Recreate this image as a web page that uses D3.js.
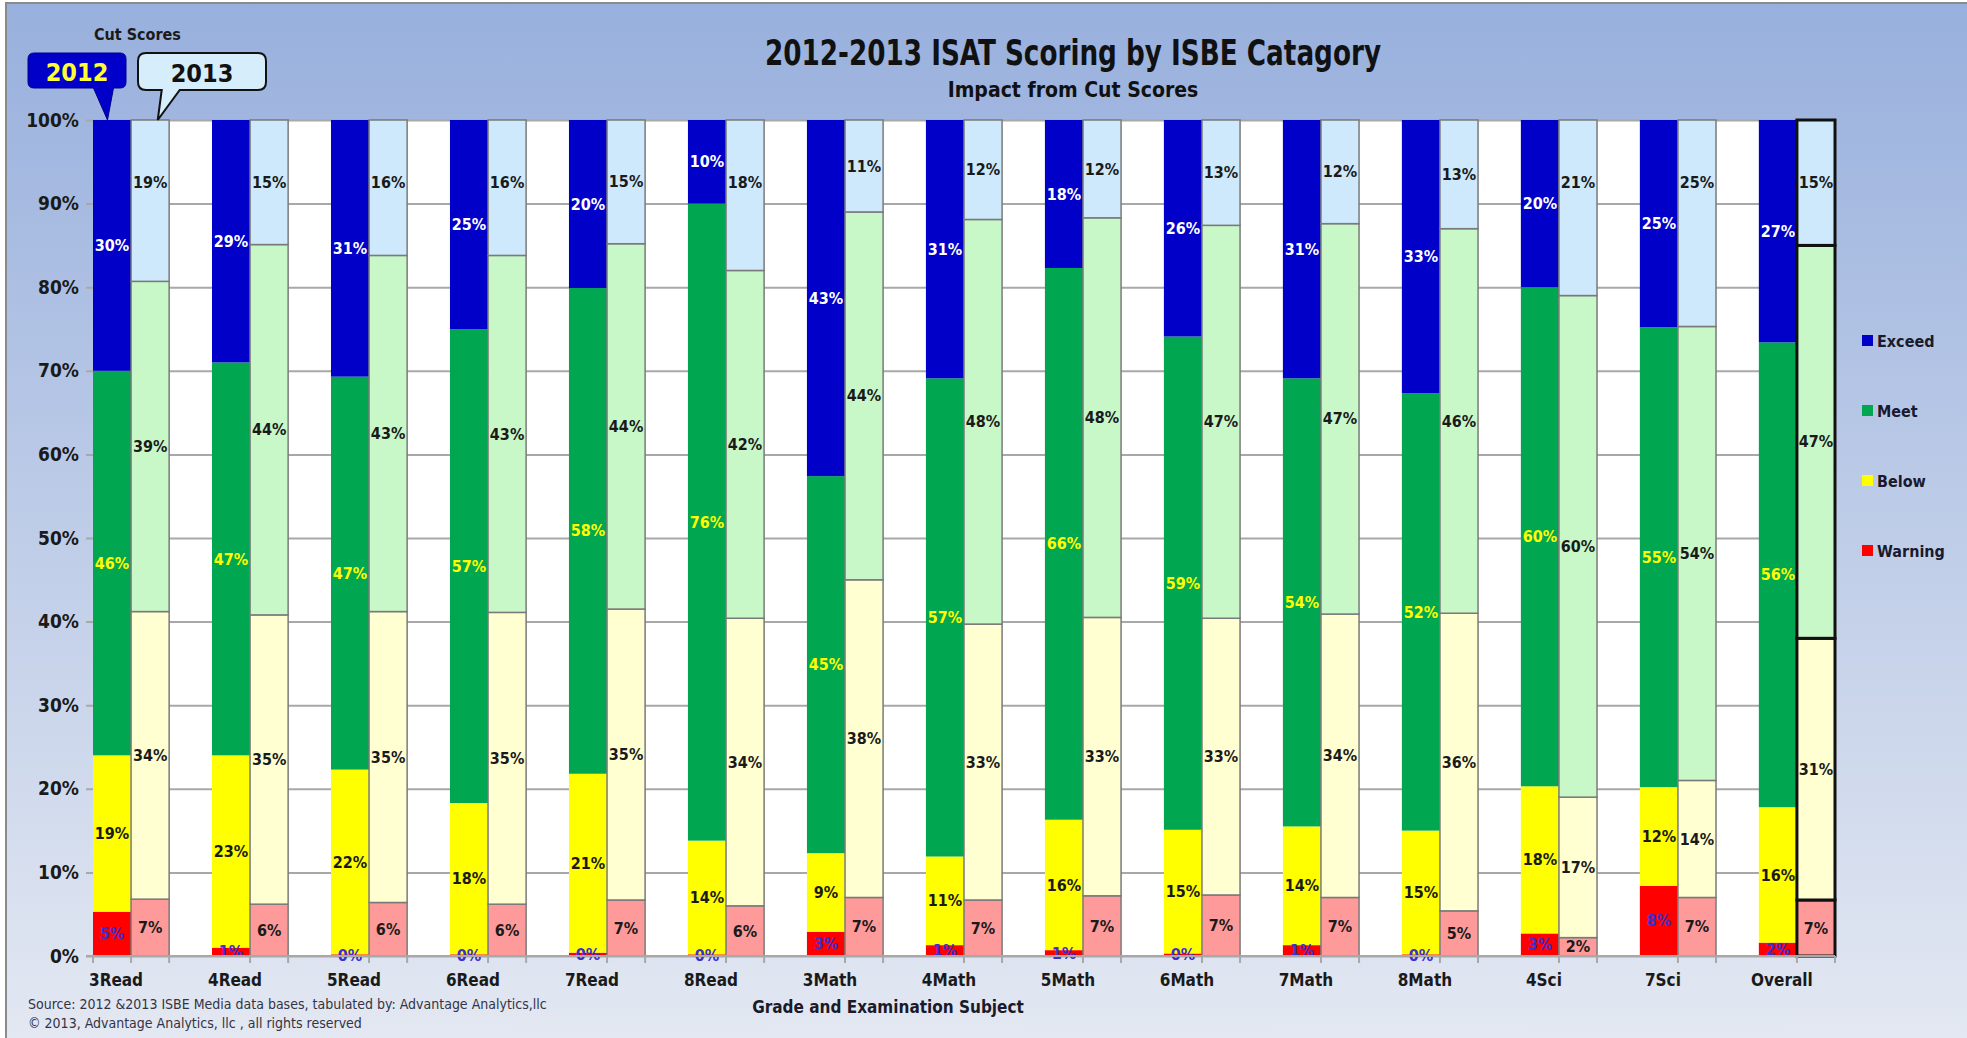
<!DOCTYPE html>
<html>
<head>
<meta charset="utf-8">
<script src="https://cdn.jsdelivr.net/npm/d3@7"></script>
<style>
	body { margin: 0; }
	text { font-family: 'Liberation Sans Narrow', 'DejaVu Sans Condensed', sans-serif; }
</style>
</head>
<body>
<div id="chart"></div>
<script>
// categories and values (percent)
const categories = ["3Read", "4Read", "5Read", "6Read", "7Read", "8Read", "3Math", "4Math", "5Math", "6Math", "7Math", "8Math", "4Sci", "7Sci", "Overall"];
const levels = ["Warning", "Below", "Meet", "Exceed"];
const years = ["2012", "2013"];

const warning2012 = [5.3, 1.0, 0.2, 0.2, 0.4, 0.2, 2.9, 1.3, 0.7, 0.3, 1.3, 0.2, 2.7, 8.4, 1.6];
const below2012 = [18.7, 23.0, 22.1, 18.1, 21.4, 13.6, 9.4, 10.6, 15.6, 14.8, 14.2, 14.8, 17.6, 11.8, 16.2];
const meet2012 = [46.0, 47.0, 47.0, 56.7, 58.1, 76.2, 45.1, 57.2, 66.0, 59.0, 53.6, 52.3, 59.7, 55.0, 55.6];
const exceed2012 = [30.0, 29.0, 30.7, 25.0, 20.1, 10.0, 42.6, 30.9, 17.7, 25.9, 30.9, 32.7, 20.0, 24.8, 26.6];

const warning2013 = [6.8, 6.2, 6.4, 6.2, 6.7, 6.0, 7.0, 6.7, 7.2, 7.3, 7.0, 5.4, 2.2, 7.0, 6.7];
const below2013 = [34.4, 34.6, 34.8, 34.9, 34.8, 34.4, 38.0, 33.0, 33.3, 33.1, 33.9, 35.6, 16.8, 14.0, 31.3];
const meet2013 = [39.5, 44.3, 42.6, 42.7, 43.7, 41.6, 44.0, 48.4, 47.8, 47.0, 46.7, 46.0, 60.0, 54.3, 47.0];
const exceed2013 = [19.3, 14.9, 16.2, 16.2, 14.8, 18.0, 11.0, 11.9, 11.7, 12.6, 12.4, 13.0, 21.0, 24.7, 15.0];

const yTicks = [0, 10, 20, 30, 40, 50, 60, 70, 80, 90, 100];

const width = 1967, height = 1038;
const plotLeft = 93, plotRight = 1835, plotTop = 120, plotBottom = 956;

const fill2012 = {Warning: "#ff0000", Below: "#ffff00", Meet: "#00a650", Exceed: "#0000c8"};
const fill2013 = {Warning: "#ff9a9a", Below: "#ffffd2", Meet: "#c8f7c8", Exceed: "#cde9fb"};
const label2012 = {Warning: "#3a2fd0", Below: "#1a1a1a", Meet: "#ffff00", Exceed: "#ffffff"};

let svg = d3.select("#chart").append("svg")
	.attr("width", width)
	.attr("height", height);

// background
let grad = svg.append("defs").append("linearGradient")
	.attr("id", "bg")
	.attr("x1", 0).attr("y1", 0).attr("x2", 0).attr("y2", 1);
grad.append("stop").attr("offset", "0%").attr("stop-color", "#98b0dd");
grad.append("stop").attr("offset", "100%").attr("stop-color", "#e3e8f2");

svg.append("rect")
	.attr("x", 6).attr("y", 3)
	.attr("width", width).attr("height", height)
	.attr("fill", "url(#bg)")
	.attr("stroke", "#8a8a8a")
	.attr("stroke-width", 2);

// scales - no outer padding so the last 2013 bar ends at plotRight
let xScale = d3.scaleBand()
	.domain(categories)
	.range([plotLeft, plotRight])
	.paddingInner(0.36)
	.paddingOuter(0);
let xSub = d3.scaleBand()
	.domain(years)
	.range([0, xScale.bandwidth()]);

let yScale = d3.scaleLinear()
	.domain([0, 100])
	.range([plotBottom, plotTop]);

// white plot area
svg.append("rect")
	.attr("x", plotLeft)
	.attr("y", plotTop)
	.attr("width", plotRight - plotLeft)
	.attr("height", plotBottom - plotTop)
	.attr("fill", "#ffffff");

// y axis with gridlines
let yAxis = d3.axisLeft(yScale)
	.tickValues(yTicks)
	.tickFormat(d => d + "%")
	.tickSize(-(plotRight - plotLeft + 7))
	.tickPadding(7);

let yg = svg.append("g")
	.attr("transform", `translate(${plotLeft - 7},0)`)
	.call(yAxis);
yg.select(".domain").remove();
yg.selectAll(".tick line")
	.attr("stroke", "#a8a8a8")
	.attr("stroke-width", 2);
yg.selectAll(".tick text")
	.attr("font-size", 19)
	.attr("font-weight", "bold")
	.attr("fill", "#1a1a1a");

// stacked data
let rows2012 = categories.map((c, i) => ({cat: c, Warning: warning2012[i], Below: below2012[i], Meet: meet2012[i], Exceed: exceed2012[i]}));
let rows2013 = categories.map((c, i) => ({cat: c, Warning: warning2013[i], Below: below2013[i], Meet: meet2013[i], Exceed: exceed2013[i]}));

let stack = d3.stack().keys(levels);
let series = {"2012": stack(rows2012), "2013": stack(rows2013)};

years.forEach(year => {
	let fills = year === "2012" ? fill2012 : fill2013;
	let g = svg.append("g").attr("id", "bars" + year);

	series[year].forEach(s => {
		g.append("g")
			.selectAll("rect")
			.data(s)
			.join("rect")
			.attr("x", d => xScale(d.data.cat) + xSub(year))
			.attr("y", d => yScale(d[1]))
			.attr("width", xSub.bandwidth())
			.attr("height", d => yScale(d[0]) - yScale(d[1]))
			.attr("fill", fills[s.key])
			.attr("stroke", d => {
				if (year === "2012") return "none";
				return d.data.cat === "Overall" ? "#111111" : "#7a7a7a";
			})
			.attr("stroke-width", d => d.data.cat === "Overall" ? 3 : 1.5);
	});

	// labels, centred in each segment (2013 exceed labels sit near the top)
	series[year].forEach(s => {
		g.append("g")
			.selectAll("text")
			.data(s)
			.join("text")
			.attr("x", d => xScale(d.data.cat) + xSub(year) + xSub.bandwidth() / 2)
			.attr("y", d => {
				let mid = (d[0] + d[1]) / 2;
				if (year === "2013" && s.key === "Exceed") mid = Math.max(mid, 92.5);
				return yScale(mid);
			})
			.attr("dy", "0.35em")
			.attr("text-anchor", "middle")
			.attr("font-size", 16)
			.attr("font-weight", "bold")
			.attr("fill", year === "2012" ? label2012[s.key] : "#1a1a1a")
			.text(d => d3.format(".0f")(d[1] - d[0]) + "%");
	});
});

// x axis line and ticks
svg.append("line")
	.attr("x1", plotLeft - 7).attr("x2", plotRight)
	.attr("y1", plotBottom).attr("y2", plotBottom)
	.attr("stroke", "#a8a8a8")
	.attr("stroke-width", 2);

let tickXs = [plotLeft];
categories.forEach(c => {
	tickXs.push(xScale(c) + xSub("2013"));
	tickXs.push(xScale(c) + xScale.bandwidth());
});
svg.append("g").selectAll("line")
	.data(tickXs)
	.join("line")
	.attr("x1", d => d).attr("x2", d => d)
	.attr("y1", plotBottom).attr("y2", plotBottom + 7)
	.attr("stroke", "#a8a8a8")
	.attr("stroke-width", 2);

svg.append("g").selectAll("text")
	.data(categories)
	.join("text")
	.attr("x", d => xScale(d) + xSub("2012") + xSub.bandwidth() / 2 + 4)
	.attr("y", plotBottom + 30)
	.attr("text-anchor", "middle")
	.attr("font-size", 17)
	.attr("font-weight", "bold")
	.attr("fill", "#1a1a1a")
	.text(d => d);

svg.append("text")
	.text("Grade and Examination Subject")
	.attr("x", 888)
	.attr("y", 1013)
	.attr("text-anchor", "middle")
	.attr("font-size", 17)
	.attr("font-weight", "bold")
	.attr("fill", "#1a1a2a");

// titles
svg.append("text")
	.text("2012-2013 ISAT Scoring by ISBE Catagory")
	.attr("x", 1073)
	.attr("y", 65)
	.attr("text-anchor", "middle")
	.attr("font-size", 35)
	.attr("font-weight", "bold")
	.attr("textLength", 616)
	.attr("lengthAdjust", "spacingAndGlyphs")
	.attr("fill", "#111111");
svg.append("text")
	.text("Impact from Cut Scores")
	.attr("x", 1073)
	.attr("y", 97)
	.attr("text-anchor", "middle")
	.attr("font-size", 21)
	.attr("font-weight", "bold")
	.attr("fill", "#111111");

svg.append("text")
	.text("Cut Scores")
	.attr("x", 94)
	.attr("y", 40)
	.attr("font-size", 16)
	.attr("font-weight", "bold")
	.attr("fill", "#1a1a1a");

// callouts pointing to the first pair of bars
let tip2012 = xScale(categories[0]) + xSub("2012") + xSub.bandwidth() * 0.38;
let tip2013 = xScale(categories[0]) + xSub("2013") + xSub.bandwidth() * 0.7;

svg.append("path")
	.attr("d", `M34,53 H120 Q126,53 126,59 V82 Q126,88 120,88 H${tip2012 + 6} L${tip2012},${plotTop} L${tip2012 - 14},88 H34 Q28,88 28,82 V59 Q28,53 34,53 Z`)
	.attr("fill", "#0000c8")
	.attr("stroke", "#00008a")
	.attr("stroke-width", 1);
svg.append("text")
	.text("2012")
	.attr("x", 77)
	.attr("y", 81)
	.attr("text-anchor", "middle")
	.attr("font-size", 25)
	.attr("font-weight", "bold")
	.attr("fill", "#ffff33");

svg.append("path")
	.attr("d", `M146,53 H258 Q266,53 266,61 V82 Q266,90 258,90 H${tip2013 + 22} L${tip2013},${plotTop} L${tip2013 + 4},90 H146 Q138,90 138,82 V61 Q138,53 146,53 Z`)
	.attr("fill", "#d6edfb")
	.attr("stroke", "#111111")
	.attr("stroke-width", 2);
svg.append("text")
	.text("2013")
	.attr("x", 202)
	.attr("y", 82)
	.attr("text-anchor", "middle")
	.attr("font-size", 25)
	.attr("font-weight", "bold")
	.attr("fill", "#111111");

// legend
let legendItems = levels.slice().reverse();
let legend = svg.append("g")
	.selectAll("g")
	.data(legendItems)
	.join("g")
	.attr("transform", (d, i) => `translate(1862,${341 + i * 70})`);
legend.append("rect")
	.attr("x", 0).attr("y", -6)
	.attr("width", 11).attr("height", 11)
	.attr("fill", d => fill2012[d]);
legend.append("text")
	.attr("x", 15)
	.attr("dy", "0.35em")
	.attr("font-size", 16)
	.attr("font-weight", "bold")
	.attr("fill", "#1a1a2e")
	.text(d => d);

// source
svg.append("text")
	.text("Source: 2012 &2013 ISBE Media data bases, tabulated by: Advantage Analytics,llc")
	.attr("x", 28).attr("y", 1009)
	.attr("font-size", 14)
	.attr("fill", "#333344");
svg.append("text")
	.text("\u00a9 2013, Advantage Analytics, llc , all rights reserved")
	.attr("x", 28).attr("y", 1028)
	.attr("font-size", 14)
	.attr("fill", "#333344");
</script>
</body>
</html>
